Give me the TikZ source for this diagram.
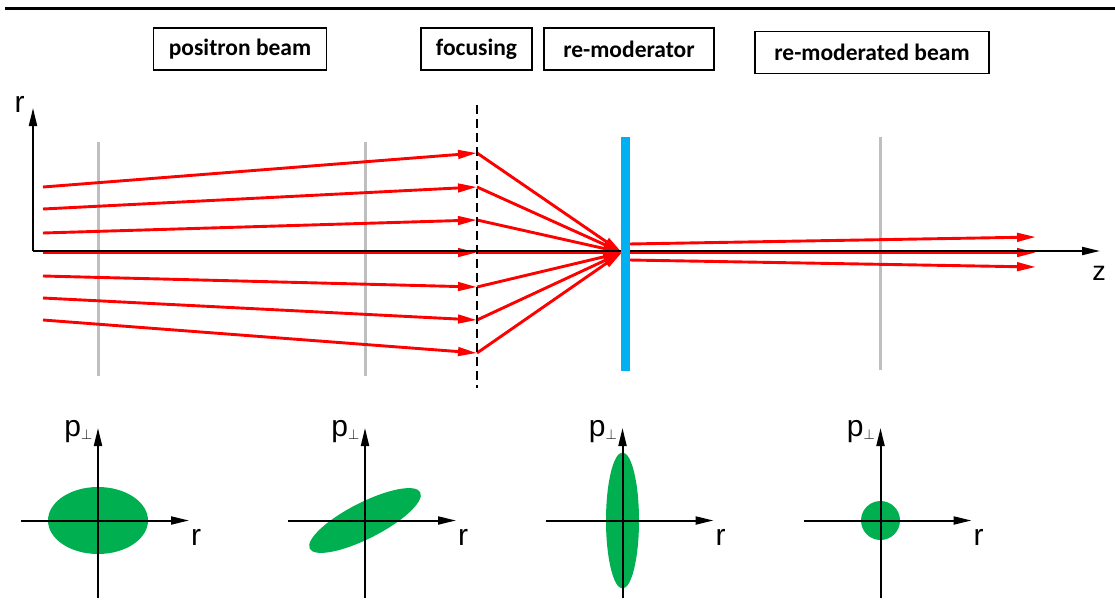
\documentclass[tikz,border=0pt]{standalone}
\usepackage{fontspec}
\setmainfont{Liberation Sans}
\newfontfamily\boxfont{Carlito}
\usetikzlibrary{arrows.meta}
\definecolor{rayred}{HTML}{FF0000}
\definecolor{guide}{HTML}{BFBFBF}
\definecolor{moder}{HTML}{00B0F0}
\definecolor{phase}{HTML}{00B050}
\begin{document}
\begin{tikzpicture}[x=1pt,y=-1pt,
 labelbox/.style={draw=black, line width=1.3pt, minimum height=42pt, inner sep=0pt,
   font=\boxfont\bfseries\fontsize{23.5}{23.5}\selectfont},
 ray/.style={draw=rayred, line width=2.9pt, -{Triangle[length=19pt,width=8.5pt]}},
 axis/.style={draw=black, line width=2pt, -{Triangle[length=18pt,width=8pt]}},
 guideline/.style={draw=guide, line width=3pt},
 axlabel/.style={inner sep=0pt, font=\fontsize{30}{30}\selectfont},
 blob/.style={fill=phase}
]
\useasboundingbox (0,0) rectangle (1115,599);

% top rule
\coordinate (t1) at (5,9);
\coordinate (t2) at (1115,9);
\draw[line width=3pt] (t1) -- (t2);

% title boxes
\node[labelbox, minimum width=173pt] (bpos) at (240,49) {positron beam};
\node[labelbox, minimum width=111pt] (bfoc) at (476.5,49) {focusing};
\node[labelbox, minimum width=170pt] (bremod) at (629,49) {re-moderator};
\node[labelbox, minimum width=234pt] (bbeam) at (872,52.5) {re-moderated beam};

% grey reference planes
\coordinate (g1a) at (98,142);  \coordinate (g1b) at (98,376);
\coordinate (g2a) at (365,142); \coordinate (g2b) at (365,376);
\coordinate (g3a) at (880,137); \coordinate (g3b) at (880,370);
\draw[guideline] (g1a) -- (g1b);
\draw[guideline] (g2a) -- (g2b);
\draw[guideline] (g3a) -- (g3b);

% rays
\foreach \i/\ys/\ye in {1/187/153,2/209/187,3/233/220,4/252.5/252.5,5/276/287,6/298/320,7/320/353} {
  \coordinate (s\i) at (43,\ys);
  \coordinate (f\i) at (477,\ye);
}
\coordinate (F) at (622,252.5);
\foreach \i in {1,...,7} {
  \draw[ray] (s\i) -- (f\i);
  \draw[ray] (f\i) -- (F);
}
\foreach \i/\ys/\ye in {1/244/237,2/252.5/252.5,3/260/267} {
  \coordinate (o\i) at (629,\ys);
  \coordinate (e\i) at (1036,\ye);
  \draw[ray] (o\i) -- (e\i);
}

% axes
\coordinate (O) at (33,251);
\coordinate (rtip) at (33,108);
\coordinate (ztip) at (1100,251);
\draw[axis] (O) -- (rtip);
\draw[axis] (O) -- (ztip);
\node[axlabel, anchor=base] (rlab) at (19.5,113) {r};
\node[axlabel, font=\fontsize{27}{27}\selectfont, anchor=base] (zlab) at (1099,280) {z};

% focusing plane
\coordinate (d1) at (477,105);
\coordinate (d2) at (477,388);
\draw[line width=2.2pt, dash pattern=on 9pt off 5pt] (d1) -- (d2);

% re-moderator foil
\coordinate (m1) at (621,137);
\coordinate (m2) at (629.5,371);
\fill[moder] (m1) rectangle (m2);

% phase-space diagrams
\foreach \n/\cx in {1/98,2/365,3/622.5,4/880.5} {
  \coordinate (c\n) at (\cx,520.5);
}
\fill[blob] (c1) ellipse [x radius=50pt, y radius=33.5pt];
\fill[blob, rotate around={27:(c2)}] (c2) ellipse [x radius=62pt, y radius=18pt];
\fill[blob] (c3) ellipse [x radius=16.5pt, y radius=68pt];
\fill[blob] (c4) circle [radius=19.5pt];
\foreach \n/\cx in {1/98,2/365,3/622.5,4/880.5} {
  \coordinate (hl\n) at ({\cx-77},520.5);
  \coordinate (hr\n) at ({\cx+91},520.5);
  \coordinate (vb\n) at (\cx,598);
  \coordinate (vt\n) at (\cx,428);
  \draw[axis] (hl\n) -- (hr\n);
  \draw[axis] (vb\n) -- (vt\n);
  \node[axlabel, anchor=base east] (p\n) at ({\cx-5},436) {p$_{\scriptscriptstyle\perp}$};
  \node[axlabel, anchor=base west] (r\n) at ({\cx+93},545) {r};
}
\end{tikzpicture}
\end{document}
